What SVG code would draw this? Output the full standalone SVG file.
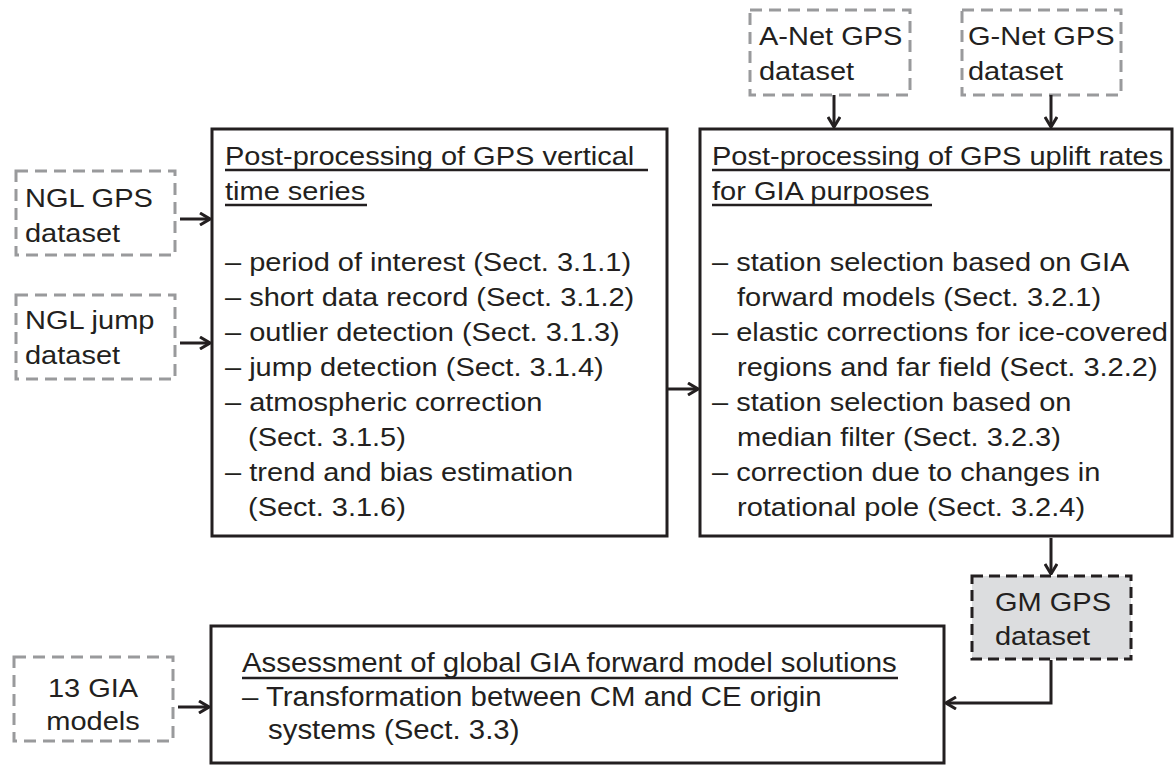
<svg xmlns="http://www.w3.org/2000/svg" width="1175" height="765" viewBox="0 0 1175 765">
<defs>
<marker id="ah" viewBox="0 0 12 14" refX="11" refY="7" markerWidth="12" markerHeight="14" markerUnits="userSpaceOnUse" orient="auto">
<path d="M1,1 L11,7 L1,13" fill="none" stroke="#231f20" stroke-width="3" stroke-linejoin="miter"/>
</marker>
<style>
.t{font-family:"Liberation Sans",Arial,sans-serif;font-size:25px;fill:#231f20}
.t3{font-family:"Liberation Sans",Arial,sans-serif;font-size:28px;fill:#231f20}
.box{fill:#fff;stroke:#231f20;stroke-width:3}
.ds{fill:#fff;stroke:#999a9c;stroke-width:3;stroke-dasharray:12 7}
.gm{fill:#dcdddf;stroke:#231f20;stroke-width:3;stroke-dasharray:11 6}
.ul{stroke:#231f20;stroke-width:2.5}
.c{fill:none;stroke:#231f20;stroke-width:3}
</style>
</defs>
<rect width="1175" height="765" fill="#fff"/>

<g id="ngl-gps">
<rect class="ds" x="16" y="171" width="159" height="84"/>
<text class="t" transform="translate(25,207) scale(1.16,1)">NGL GPS</text>
<text class="t" transform="translate(25,242) scale(1.16,1)">dataset</text>
</g>

<g id="ngl-jump">
<rect class="ds" x="16" y="295" width="159" height="84"/>
<text class="t" transform="translate(25,329) scale(1.16,1)">NGL jump</text>
<text class="t" transform="translate(25,364) scale(1.16,1)">dataset</text>
</g>

<g id="anet">
<rect class="ds" x="750" y="10" width="160" height="85"/>
<text class="t" transform="translate(759,45) scale(1.16,1)">A-Net GPS</text>
<text class="t" transform="translate(759,80) scale(1.16,1)">dataset</text>
</g>

<g id="gnet">
<rect class="ds" x="962" y="10" width="159" height="85"/>
<text class="t" transform="translate(968,45) scale(1.16,1)">G-Net GPS</text>
<text class="t" transform="translate(968,80) scale(1.16,1)">dataset</text>
</g>

<g id="box1">
<rect class="box" x="212" y="129" width="455" height="407"/>
<text class="t" transform="translate(225,165) scale(1.16,1)">Post-processing of GPS vertical</text>
<line class="ul" x1="225" y1="170" x2="648" y2="170"/>
<text class="t" transform="translate(225,200) scale(1.16,1)">time series</text>
<line class="ul" x1="225" y1="205" x2="367" y2="205"/>
<text class="t" transform="translate(225,271) scale(1.16,1)">– period of interest (Sect. 3.1.1)</text>
<text class="t" transform="translate(225,306) scale(1.16,1)">– short data record (Sect. 3.1.2)</text>
<text class="t" transform="translate(225,341) scale(1.16,1)">– outlier detection (Sect. 3.1.3)</text>
<text class="t" transform="translate(225,376) scale(1.16,1)">– jump detection (Sect. 3.1.4)</text>
<text class="t" transform="translate(225,411) scale(1.16,1)">– atmospheric correction</text>
<text class="t" transform="translate(248,446) scale(1.16,1)">(Sect. 3.1.5)</text>
<text class="t" transform="translate(225,481) scale(1.16,1)">– trend and bias estimation</text>
<text class="t" transform="translate(248,516) scale(1.16,1)">(Sect. 3.1.6)</text>
</g>

<g id="box2">
<rect class="box" x="700" y="129" width="472" height="407"/>
<text class="t" transform="translate(712,165) scale(1.16,1)">Post-processing of GPS uplift rates</text>
<line class="ul" x1="712" y1="170" x2="1170" y2="170"/>
<text class="t" transform="translate(712,200) scale(1.16,1)">for GIA purposes</text>
<line class="ul" x1="712" y1="205" x2="932" y2="205"/>
<text class="t" transform="translate(712,271) scale(1.16,1)">– station selection based on GIA</text>
<text class="t" transform="translate(737,306) scale(1.16,1)">forward models (Sect. 3.2.1)</text>
<text class="t" transform="translate(712,341) scale(1.16,1)">– elastic corrections for ice-covered</text>
<text class="t" transform="translate(737,376) scale(1.16,1)">regions and far field (Sect. 3.2.2)</text>
<text class="t" transform="translate(712,411) scale(1.16,1)">– station selection based on</text>
<text class="t" transform="translate(737,446) scale(1.16,1)">median filter (Sect. 3.2.3)</text>
<text class="t" transform="translate(712,481) scale(1.16,1)">– correction due to changes in</text>
<text class="t" transform="translate(737,516) scale(1.16,1)">rotational pole (Sect. 3.2.4)</text>
</g>

<g id="gm">
<rect class="gm" x="972" y="576" width="159" height="83"/>
<text class="t" transform="translate(995,611) scale(1.16,1)">GM GPS</text>
<text class="t" transform="translate(995,645) scale(1.16,1)">dataset</text>
</g>

<g id="gia13">
<rect class="ds" x="14" y="657" width="159" height="84"/>
<text class="t" text-anchor="middle" transform="translate(93,697) scale(1.16,1)">13 GIA</text>
<text class="t" text-anchor="middle" transform="translate(93,730) scale(1.16,1)">models</text>
</g>

<g id="box3">
<rect class="box" x="211" y="626" width="733" height="137"/>
<text class="t3" transform="translate(242,672) scale(1.05,1)">Assessment of global GIA forward model solutions</text>
<line class="ul" x1="242" y1="678" x2="898" y2="678"/>
<text class="t3" transform="translate(242,706) scale(1.05,1)">– Transformation between CM and CE origin</text>
<text class="t3" transform="translate(268,739) scale(1.05,1)">systems (Sect. 3.3)</text>
</g>

<g id="connectors">
<line class="c" x1="180" y1="219" x2="210" y2="219" marker-end="url(#ah)"/>
<line class="c" x1="180" y1="343" x2="210" y2="343" marker-end="url(#ah)"/>
<line class="c" x1="668" y1="389" x2="698" y2="389" marker-end="url(#ah)"/>
<line class="c" x1="834" y1="95" x2="834" y2="127" marker-end="url(#ah)"/>
<line class="c" x1="1051" y1="95" x2="1051" y2="127" marker-end="url(#ah)"/>
<line class="c" x1="1051" y1="538" x2="1051" y2="574" marker-end="url(#ah)"/>
<polyline class="c" points="1051,660 1051,703 946,703" marker-end="url(#ah)"/>
<line class="c" x1="178" y1="707" x2="209" y2="707" marker-end="url(#ah)"/>
</g>
</svg>
